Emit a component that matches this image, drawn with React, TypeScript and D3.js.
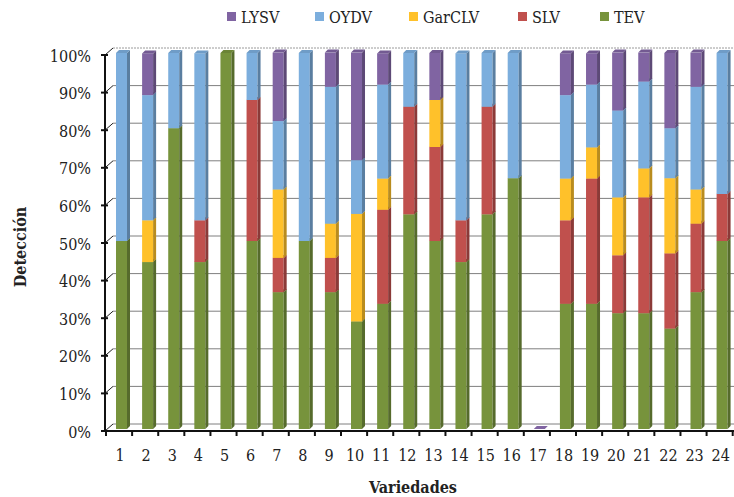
import React from "react";
import * as d3 from "d3";

const categories = ["1","2","3","4","5","6","7","8","9","10","11","12","13","14","15","16","17","18","19","20","21","22","23","24"];
const seriesNames = ["TEV", "SLV", "GarCLV", "OYDV", "LYSV"];
const TEV =    [50, 44.4, 80, 44.4, 100, 50, 36.4, 50, 36.4, 28.6, 33.3, 57.1, 50, 44.4, 57.1, 66.7, 0, 33.3, 33.3, 30.8, 30.8, 26.7, 36.4, 50];
const SLV =    [0, 0, 0, 11.1, 0, 37.5, 9.1, 0, 9.1, 0, 25, 28.6, 25, 11.1, 28.6, 0, 0, 22.2, 33.3, 15.4, 30.8, 20, 18.2, 12.5];
const GarCLV = [0, 11.1, 0, 0, 0, 0, 18.2, 0, 9.1, 28.6, 8.3, 0, 12.5, 0, 0, 0, 0, 11.1, 8.3, 15.4, 7.7, 20, 9.1, 0];
const OYDV =   [50, 33.3, 20, 44.4, 0, 12.5, 18.2, 50, 36.4, 14.3, 25, 14.3, 0, 44.4, 14.3, 33.3, 0, 22.2, 16.7, 23.1, 23.1, 13.3, 27.3, 37.5];
const LYSV =   [0, 11.1, 0, 0, 0, 0, 18.2, 0, 9.1, 28.6, 8.3, 0, 12.5, 0, 0, 0, 0, 11.1, 8.3, 15.4, 7.7, 20, 9.1, 0];
const yTicks = [0, 10, 20, 30, 40, 50, 60, 70, 80, 90, 100];
const legendOrder = ["LYSV", "OYDV", "GarCLV", "SLV", "TEV"];

const colors: Record<string, string> = {
  LYSV: "#8064A2",
  OYDV: "#7CAEDD",
  GarCLV: "#FFC12A",
  SLV: "#C0504D",
  TEV: "#77933C",
};

export default function App() {
  const W = 734, H = 497;
  const font = "'DejaVu Serif Condensed', 'DejaVu Serif', serif";
  const dataMap: Record<string, number[]> = { TEV, SLV, GarCLV, OYDV, LYSV };

  const yF = d3.scaleLinear().domain([0, 100]).range([431, 55]);
  const x = d3.scaleBand().domain(categories).range([106, 732.7]).paddingInner(0).paddingOuter(0);
  const depth = 7;
  const barW = 11;
  const side = 3;
  const barOff = 10;
  const barDy = -2;

  const rows = categories.map((c, i) => {
    const r: any = { cat: c };
    seriesNames.forEach((s) => (r[s] = dataMap[s][i]));
    return r;
  });
  const stacked = d3.stack().keys(seriesNames)(rows as any);

  const darker = (c: string) => d3.color(c)!.darker(0.9).formatHex();
  const topCol = (c: string) => d3.color(c)!.darker(0.3).formatHex();

  const legendX = [227, 315, 409, 518, 600];

  return (
    <svg width={W} height={H} style={{ position: "absolute", left: 0, top: 0, background: "#fff" }}>
      {legendOrder.map((s, i) => (
        <g key={s}>
          <rect x={legendX[i]} y={12} width={9} height={9} fill={colors[s]} />
          <text x={legendX[i] + 14} y={17} dominantBaseline="central" fontFamily={font} fontSize={16} fill="#222">{s}</text>
        </g>
      ))}

      {yTicks.map((t) => (
        <line key={"g" + t} x1={106 + depth} x2={734} y1={yF(t) - depth} y2={yF(t) - depth}
          stroke={t === 100 ? "#9a9a9a" : "#7f7f7f"} strokeWidth={1}
          strokeDasharray={t === 100 ? "2,1" : undefined} />
      ))}
      {yTicks.map((t) => (
        <line key={"d" + t} x1={105} x2={106 + depth} y1={yF(t)} y2={yF(t) - depth} stroke="#222" strokeWidth={1} />
      ))}

      {categories.map((c, i) => {
        const bx = (x(c) as number) + barOff;
        const total = seriesNames.reduce((a, s) => a + dataMap[s][i], 0);
        if (total === 0) {
          const yt = yF(0) + barDy;
          return (
            <path key={"z" + c}
              d={`M${bx},${yt} L${bx + barW},${yt} L${bx + barW + side},${yt - side} L${bx + side},${yt - side} Z`}
              fill={colors.LYSV} />
          );
        }
        return (
          <g key={"b" + c}>
            {stacked.map((layer) => {
              const s = layer.key;
              const [v0, v1] = layer[i];
              if (v1 - v0 <= 0) return null;
              const yb = yF(v0) + barDy;
              const yt = yF(v1) + barDy;
              return (
                <g key={s}>
                  <rect x={bx} y={yt} width={barW} height={yb - yt} fill={colors[s]} />
                  <path d={`M${bx + barW},${yt} L${bx + barW + side},${yt - side} L${bx + barW + side},${yb - side} L${bx + barW},${yb} Z`}
                    fill={darker(colors[s])} />
                  <path d={`M${bx},${yt} L${bx + barW},${yt} L${bx + barW + side},${yt - side} L${bx + side},${yt - side} Z`}
                    fill={topCol(colors[s])} />
                </g>
              );
            })}
          </g>
        );
      })}

      <line x1={105} x2={105} y1={yF(100)} y2={yF(0)} stroke="#111" strokeWidth={2} />
      {yTicks.map((t) => (
        <g key={"yt" + t}>
          <line x1={101} x2={108} y1={yF(t)} y2={yF(t)} stroke="#111" strokeWidth={2} />
          <text x={91} y={yF(t) + 1} textAnchor="end" dominantBaseline="central" fontFamily={font} fontSize={16} fill="#222">{t}%</text>
        </g>
      ))}

      <line x1={104} x2={734} y1={yF(0)} y2={yF(0)} stroke="#111" strokeWidth={2} />
      {categories.map((c) => (
        <line key={"xt" + c} x1={(x(c) as number) + x.bandwidth()} x2={(x(c) as number) + x.bandwidth()} y1={yF(0)} y2={yF(0) + 5} stroke="#111" strokeWidth={2} />
      ))}
      <line x1={106} x2={106} y1={yF(0)} y2={yF(0) + 5} stroke="#111" strokeWidth={2} />
      {categories.map((c) => (
        <text key={"xl" + c} x={(x(c) as number) + x.bandwidth() / 2 + 1} y={455} textAnchor="middle" dominantBaseline="central" fontFamily={font} fontSize={16} fill="#222">{c}</text>
      ))}

      <text x={413} y={487} textAnchor="middle" dominantBaseline="central" fontFamily={font} fontSize={16} fontWeight="bold" fill="#222">Variedades</text>
      <text transform={`translate(20,247) rotate(-90)`} textAnchor="middle" dominantBaseline="central" fontFamily={font} fontSize={16} fontWeight="bold" fill="#222">Detección</text>
    </svg>
  );
}
